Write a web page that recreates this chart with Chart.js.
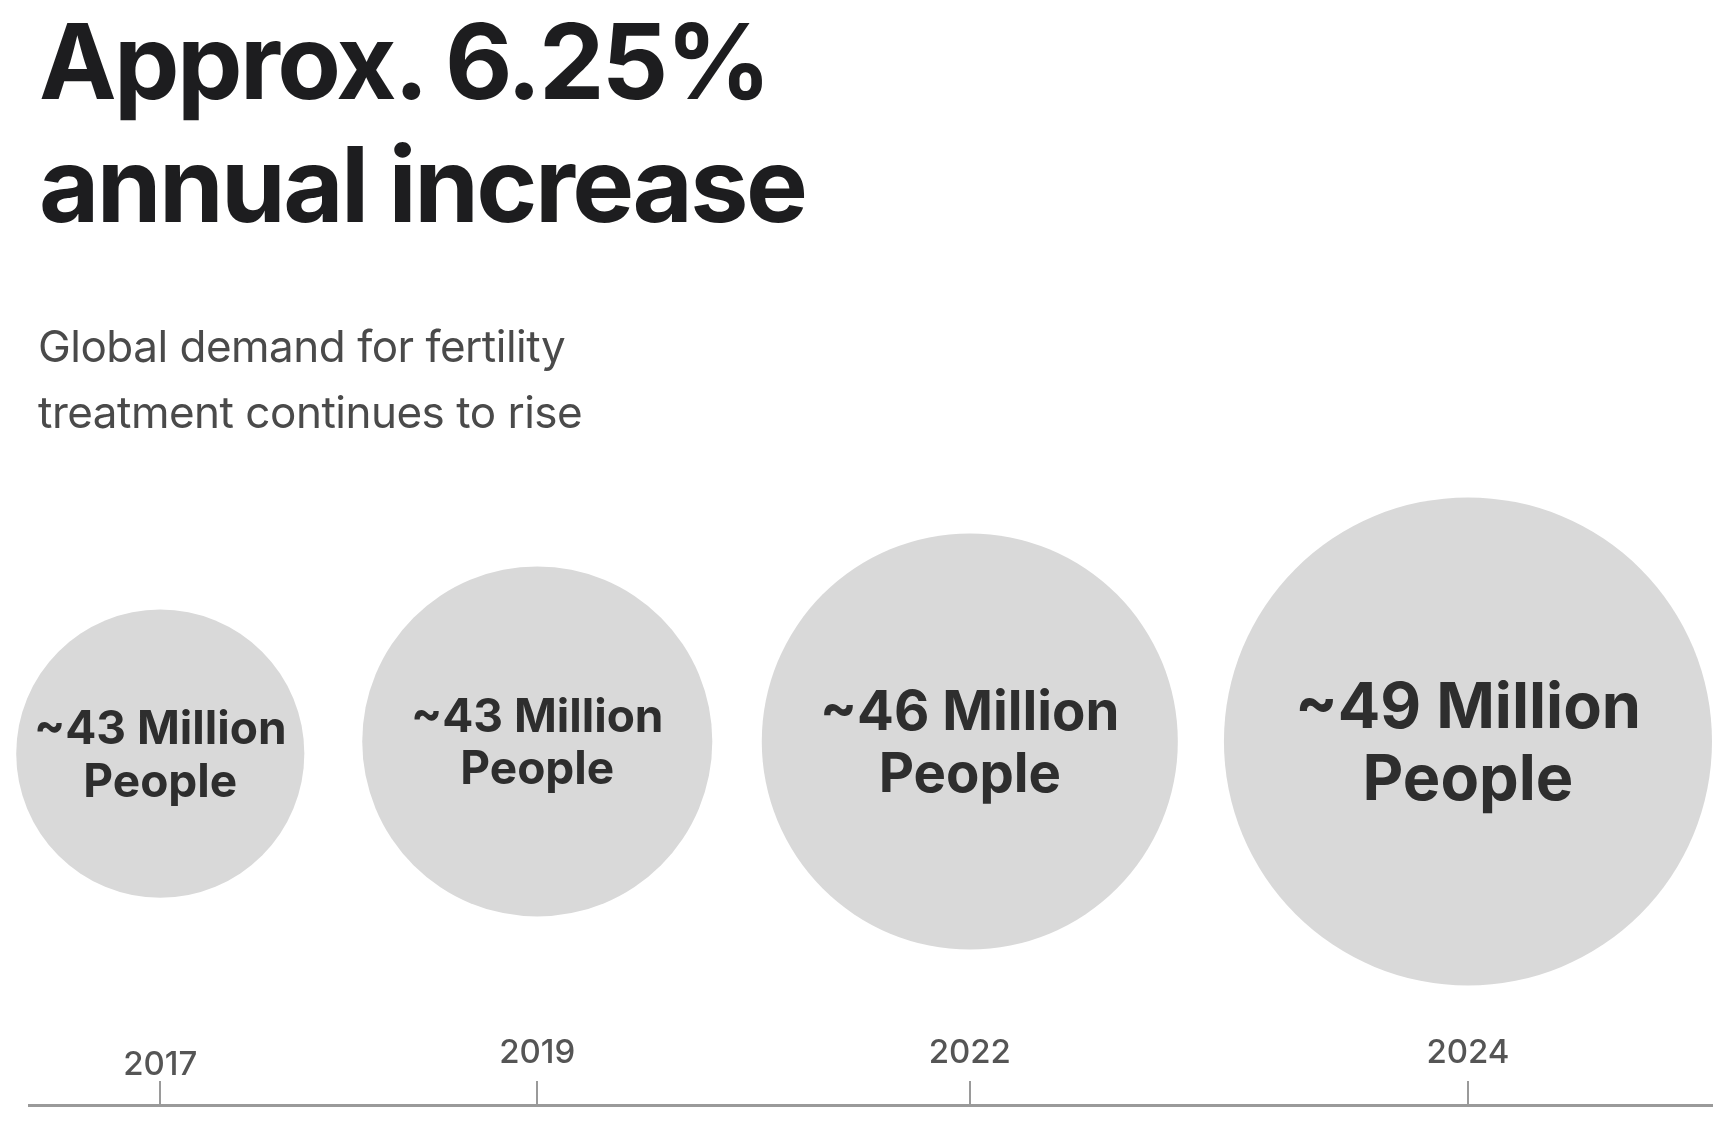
<!DOCTYPE html>
<html>
<head>
<meta charset="utf-8">
<script src="https://cdn.jsdelivr.net/npm/chart.js@4"></script>
<style>
  html, body { margin: 0; padding: 0; background: #fff; }
  body { width: 1734px; height: 1127px; position: relative; overflow: hidden; font-family: Inter, "Noto Sans", sans-serif; }
  #title {
    position: absolute; left: 39px; top: 0; margin: 0;
    font-size: 104px; line-height: 123px; font-weight: 700;
    letter-spacing: -2.6px; color: #1d1d1f;
  }
  #subtitle {
    position: absolute; left: 38px; top: 313px; margin: 0;
    font-size: 44px; line-height: 66px; font-weight: 400;
    letter-spacing: -0.5px; color: #4a4a4a;
  }
  #chart { position: absolute; left: 0; top: 0; }
</style>
</head>
<body>
<canvas id="chart" width="1734" height="1127"></canvas>
<h1 id="title">Approx. 6.25%<br>annual increase</h1>
<p id="subtitle">Global demand for fertility<br>treatment continues to rise</p>

<script>
// ===== DATA =====
const years = ['2017', '2019', '2022', '2024'];
const people = [43, 43, 46, 49];              // millions
const timelinePos = [7.8, 30.2, 55.9, 85.5];  // place along the timeline (0-100)
const bubbleLevel = [31.8, 32.9, 32.9, 32.9]; // vertical level (0-100)
const bubbleSpan = [8.56, 10.4, 12.36, 14.5]; // bubble radius in timeline units

// labels inside bubbles + year labels over the ticks
const bubbleLabels = {
    id: 'bubbleLabels',
    afterDatasetsDraw(chart, args, opts) {
        const ctx = chart.ctx;
        const meta = chart.getDatasetMeta(0);
        ctx.save();
        ctx.fillStyle = opts.color;
        ctx.textAlign = 'center';
        ctx.textBaseline = 'alphabetic';
        meta.data.forEach((el, i) => {
            const fs = opts.fontSizes[i];
            const cap = fs * 0.727;
            const gap = fs * 1.14;
            const b1 = el.y + (cap - gap) / 2;
            ctx.font = `700 ${fs}px Inter`;
            ctx.fillText(`~${people[i]} Million`, el.x, b1);
            ctx.fillText('People', el.x, b1 + gap);
        });
        ctx.restore();
    },
    afterDraw(chart, args, opts) {
        const ctx = chart.ctx;
        const xs = chart.scales.x, ys = chart.scales.y;
        const base = ys.getPixelForValue(0);
        ctx.save();
        ctx.fillStyle = opts.yearColor;
        ctx.font = '500 33px Inter';
        ctx.textAlign = 'center';
        ctx.textBaseline = 'alphabetic';
        years.forEach((y, i) => {
            ctx.fillText(y, xs.getPixelForValue(timelinePos[i]), base - opts.yearRaise[i]);
        });
        ctx.restore();
    }
};

new Chart(document.getElementById('chart'), {
    type: 'scatter',
    data: {
        datasets: [{
            data: years.map((y, i) => ({ x: timelinePos[i], y: bubbleLevel[i] })),
            pointBackgroundColor: '#d9d9d9',
            pointBorderWidth: 0,
            pointRadius: c => {
                const s = c.chart.scales.x;
                const r = s.getPixelForValue(bubbleSpan[c.dataIndex]) - s.getPixelForValue(0);
                return isFinite(r) ? r : 0;
            },
            clip: false
        }]
    },
    options: {
        responsive: false,
        animation: false,
        events: [],
        layout: { padding: { left: 29, right: 22, top: 0, bottom: 22 } },
        plugins: {
            legend: { display: false },
            tooltip: { enabled: false },
            bubbleLabels: { color: '#2e2e2e', fontSizes: [46, 46, 54.5, 63], yearColor: '#555', yearRaise: [30, 42, 42, 42] }
        },
        scales: {
            x: {
                type: 'linear', min: 0, max: 100,
                position: { y: 0 },
                afterBuildTicks: s => { s.ticks = timelinePos.map(v => ({ value: v })); },
                ticks: { display: false },
                grid: { drawOnChartArea: false, drawTicks: true, tickLength: -26, color: '#9a9a9a', lineWidth: 2 },
                border: { display: true, color: '#9a9a9a', width: 3 }
            },
            y: { type: 'linear', min: 0, max: 100, display: false }
        }
    },
    plugins: [bubbleLabels]
});
</script>
</body>
</html>
